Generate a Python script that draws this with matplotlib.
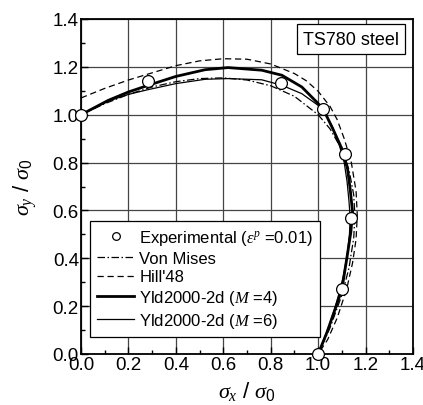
import matplotlib
matplotlib.use("Agg")
import matplotlib.pyplot as plt
from matplotlib.ticker import MultipleLocator, FormatStrFormatter

plt.rcParams['font.family'] = ['Liberation Sans', 'DejaVu Sans']
plt.rcParams['mathtext.fontset'] = 'custom'
plt.rcParams['mathtext.rm'] = 'Liberation Sans'
plt.rcParams['mathtext.it'] = 'Liberation Serif:italic'

# Experimental yield points (sigma_x/sigma_0, sigma_y/sigma_0)
exp_x = [0.0, 0.284, 0.844, 1.022, 1.114, 1.139, 1.100, 1.0]
exp_y = [1.0, 1.140, 1.134, 1.022, 0.837, 0.568, 0.272, 0.0]

# Von Mises locus
vm_x = [0.0, 0.1, 0.2, 0.3, 0.4, 0.5, 0.6, 0.7, 0.8, 0.9, 1.0, 1.05, 1.1, 1.13,
        1.15, 1.155, 1.15, 1.13, 1.1, 1.05, 1.0]
vm_y = [1.0, 1.046, 1.085, 1.116, 1.138, 1.151, 1.154, 1.145, 1.121, 1.077, 1.0,
        0.941, 0.854, 0.771, 0.665, 0.577, 0.485, 0.359, 0.246, 0.109, 0.0]

# Hill'48 locus
hill_x = [0.0, 0.05, 0.1, 0.2, 0.3, 0.4, 0.5, 0.6, 0.7, 0.8, 0.9, 0.95, 1.0, 1.05,
          1.08, 1.11, 1.14, 1.16, 1.165, 1.16, 1.145, 1.12, 1.08, 1.04, 1.0]
hill_y = [1.07, 1.09, 1.11, 1.145, 1.175, 1.205, 1.225, 1.234, 1.232, 1.212, 1.172,
          1.142, 1.098, 1.035, 0.98, 0.90, 0.80, 0.68, 0.58, 0.48, 0.38, 0.27,
          0.15, 0.06, 0.0]

# Yld2000-2d, M = 4
m4_x = [0.0, 0.115, 0.2, 0.284, 0.4, 0.523, 0.62, 0.762, 0.847, 0.931, 0.994,
        1.022, 1.062, 1.10, 1.124, 1.135, 1.145, 1.138, 1.121, 1.10, 1.076, 1.037, 1.0]
m4_y = [1.0, 1.06, 1.095, 1.123, 1.16, 1.188, 1.197, 1.186, 1.165, 1.116, 1.053,
        1.022, 0.941, 0.858, 0.774, 0.69, 0.594, 0.51, 0.40, 0.27, 0.2, 0.09, 0.0]

# Yld2000-2d, M = 6
m6_x = [0.0, 0.115, 0.2, 0.284, 0.4, 0.523, 0.62, 0.762, 0.847, 0.931, 1.0,
        1.022, 1.06, 1.09, 1.11, 1.122, 1.13, 1.135, 1.132, 1.122, 1.105, 1.09,
        1.07, 1.04, 1.0]
m6_y = [1.0, 1.057, 1.085, 1.105, 1.13, 1.148, 1.151, 1.146, 1.123, 1.088, 1.039,
        1.022, 0.95, 0.87, 0.80, 0.72, 0.64, 0.57, 0.5, 0.41, 0.32, 0.26,
        0.19, 0.1, 0.0]

fig = plt.figure(figsize=(4.23, 4.06), dpi=100)
ax = fig.add_axes([81 / 423, 51 / 406, 332 / 423, 335 / 406])

ax.plot(m6_x, m6_y, color='black', lw=0.9, label='Yld2000-2d ($M$ =6)', zorder=3)
ax.plot(m4_x, m4_y, color='black', lw=2.0, label='Yld2000-2d ($M$ =4)', zorder=3)
ax.plot(hill_x, hill_y, color='black', lw=0.9, ls=(0, (5, 3)), label="Hill'48", zorder=3)
ax.plot(vm_x, vm_y, color='black', lw=0.9, ls=(0, (6, 2, 1.2, 2)), label='Von Mises', zorder=3)
ax.plot(exp_x, exp_y, ls='none', marker='o', ms=8.5, mfc='white', mec='black',
        mew=0.9, label=r'Experimental ($\varepsilon^{p}$ =0.01)',
        clip_on=False, zorder=5)

ax.set_xlim(0, 1.4)
ax.set_ylim(0, 1.4)
ax.xaxis.set_major_locator(MultipleLocator(0.2))
ax.yaxis.set_major_locator(MultipleLocator(0.2))
ax.xaxis.set_minor_locator(MultipleLocator(0.1))
ax.yaxis.set_minor_locator(MultipleLocator(0.1))
ax.xaxis.set_major_formatter(FormatStrFormatter('%.1f'))
ax.yaxis.set_major_formatter(FormatStrFormatter('%.1f'))
ax.tick_params(which='both', direction='in', labelsize=13.5, width=1.0)
ax.tick_params(which='major', length=5, pad=1.5)
ax.tick_params(which='minor', length=3)
ax.grid(True, which='major', color='#444444', lw=0.9)
for s in ax.spines.values():
    s.set_linewidth(1.3)

ax.set_xlabel(r'$\sigma_{x}$ / $\sigma_{0}$', fontsize=16, labelpad=4)
ax.set_ylabel(r'$\sigma_{y}$ / $\sigma_{0}$', fontsize=16, labelpad=10)

handles, labels = ax.get_legend_handles_labels()
order = [4, 3, 2, 1, 0]
leg = ax.legend([handles[i] for i in order], [labels[i] for i in order],
                loc='lower left', bbox_to_anchor=(0.027, 0.05), fontsize=12,
                frameon=True, fancybox=False, edgecolor='black', framealpha=1,
                handlelength=2.2, handletextpad=0.3, labelspacing=0.22,
                borderpad=0.45, borderaxespad=0, markerscale=0.65)
leg.get_frame().set_linewidth(0.9)
leg.set_zorder(4)

ax.text(0.958, 0.94, 'TS780 steel', transform=ax.transAxes, ha='right', va='center',
        fontsize=13, bbox=dict(boxstyle='square,pad=0.35', fc='white', ec='black', lw=0.9),
        zorder=6)

fig.savefig('out.png', dpi=100)
